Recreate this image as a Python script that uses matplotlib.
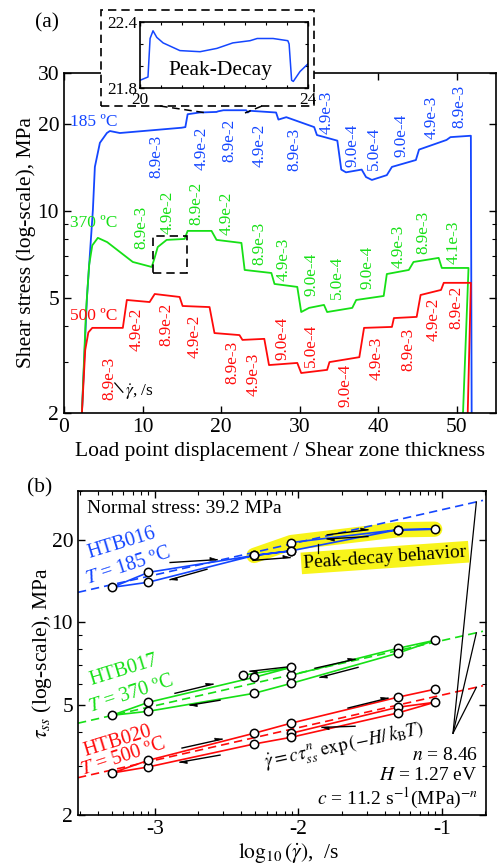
import numpy as np
import matplotlib
matplotlib.use("Agg")
import matplotlib.pyplot as plt
from matplotlib.patches import Rectangle, Polygon
from matplotlib.lines import Line2D
from matplotlib.ticker import FixedLocator, NullFormatter, FuncFormatter

plt.rcParams['font.family'] = ['Liberation Serif', 'DejaVu Serif']
plt.rcParams['mathtext.fontset'] = 'stix'
plt.rcParams['font.size'] = 15.5

BLUE = '#1446ff'
GREEN = '#16e016'
RED = '#ff0a0a'
YELLOW = '#f8f41a'

# ── (a) shear stress vs. load point displacement / shear zone thickness ──
disp_185 = [2.28, 2.92, 3.68, 3.93, 4.57, 5.46, 5.84, 7.11, 14.97, 15.45, 15.74, 17.26, 19.42,
            19.6, 20.3, 23.2, 23.4, 23.7, 27.0, 27.3, 28.3, 31.85, 32.2, 33.5, 34.8, 35.3,
            35.9, 37.9, 38.45, 39.2, 41.1, 41.75, 44.8, 45.2, 48.7, 49.2, 51.8, 51.9]
tau_185 = [2.0, 5.0, 10.1, 14.2, 17.2, 18.6, 18.9, 18.6, 19.4, 19.5, 21.6, 21.9, 22.0,
           22.1, 22.3, 22.3, 21.9, 22.2, 21.9, 20.7, 21.1, 19.5, 18.3, 17.9, 17.5, 13.9,
           13.6, 13.9, 13.1, 12.8, 13.3, 14.2, 15.0, 16.3, 17.6, 18.0, 18.2, 2.0]

disp_370 = [2.28, 2.8, 3.2, 3.6, 4.31, 5.5, 8.76, 11.17, 11.55, 11.93, 13.07, 15.36, 15.74,
            18.78, 19.42, 22.59, 23.0, 26.4, 26.8, 29.7, 30.2, 31.2, 33.1, 33.5, 36.7, 37.2,
            40.7, 41.1, 43.9, 44.5, 47.7, 48.1, 51.5, 50.8]
tau_370 = [2.0, 4.5, 6.5, 7.6, 8.07, 7.8, 6.66, 6.40, 6.9, 7.50, 7.94, 8.0, 8.53,
           8.53, 7.94, 7.75, 6.25, 6.10, 5.59, 5.46, 4.47, 4.62, 4.73, 4.47, 4.62, 4.92,
           5.08, 6.05, 6.25, 6.66, 6.88, 6.35, 6.35, 2.0]

disp_500 = [2.28, 2.7, 3.1, 3.6, 7.49, 8.0, 10.9, 11.55, 14.72, 15.1, 18.53, 19.16, 22.34,
            22.72, 25.5, 26.1, 29.7, 30.2, 33.5, 33.8, 37.6, 38.2, 41.75, 42.0, 44.9, 45.4,
            48.0, 48.35, 51.8, 51.4]
tau_500 = [2.0, 3.3, 3.8, 3.94, 3.94, 4.92, 4.84, 5.16, 5.04, 4.69, 4.65, 3.78, 3.72,
           3.58, 3.61, 2.93, 2.98, 2.75, 2.82, 3.00, 3.12, 3.94, 3.97, 4.26, 4.30, 5.12,
           5.33, 5.64, 5.64, 2.0]

# strain-rate step labels (/s)
rates_185 = ['8.9e-3', '4.9e-2', '8.9e-2', '4.9e-2', '8.9e-3', '4.9e-3', '9.0e-4',
             '5.0e-4', '9.0e-4', '4.9e-3', '8.9e-3']
rates_370 = ['8.9e-3', '4.9e-2', '8.9e-2', '4.9e-2', '8.9e-3', '4.9e-3', '9.0e-4',
             '5.0e-4', '9.0e-4', '4.9e-3', '8.9e-3', '4.1e-3']
rates_500 = ['8.9e-3', '4.9e-2', '8.9e-2', '4.9e-2', '8.9e-3', '4.9e-3', '9.0e-4',
             '5.0e-4', '9.0e-4', '4.9e-3', '8.9e-3', '4.9e-2', '8.9e-2']

# label anchor spots (displacement, stress)
lab_x_185 = [11.8, 17.5, 21.07, 24.87, 29.3, 33.4, 36.7, 39.5, 43.0, 46.8, 50.4]
lab_y_185 = [15.4, 16.5, 17.5, 16.9, 16.3, 22.0, 16.9, 16.5, 18.2, 21.1, 22.9]
lab_x_370 = [9.9, 13.2, 16.9, 20.7, 24.9, 28.0, 31.5, 34.8, 38.6, 42.6, 45.8, 49.6]
lab_y_370 = [8.8, 9.92, 10.66, 9.84, 7.69, 6.82, 6.01, 5.91, 6.40, 7.57, 8.40, 7.81]
lab_x_500 = [5.84, 9.26, 13.07, 16.6, 21.4, 24.2, 27.8, 31.5, 35.9, 39.85, 43.9, 47.1, 50.0]
lab_y_500 = [2.64, 3.91, 4.06, 3.69, 3.00, 2.73, 3.61, 3.44, 2.50, 3.08, 3.33, 4.23, 4.65]

# inset: peak-decay detail of the 185 C run
inset_disp = [20.0, 20.19, 20.24, 20.31, 20.4, 20.55, 20.95, 21.43, 21.83, 22.21, 22.62,
              22.79, 23.17, 23.52, 23.55, 23.61, 23.65, 23.81, 24.0]
inset_tau = [21.87, 21.9, 22.25, 22.32, 22.26, 22.21, 22.14, 22.13, 22.16, 22.21, 22.23,
             22.25, 22.25, 22.23, 22.20, 21.87, 21.86, 21.95, 22.02]

# ── (b) steady-state stress vs. strain rate ──
rate_016 = [8.9e-3, 4.9e-2, 8.9e-2, 4.9e-2, 8.9e-3, 4.9e-3, 9.0e-4, 5.0e-4, 9.0e-4, 4.9e-3, 8.9e-3]
tss_016 = [19.5, 21.7, 21.8, 21.7, 18.2, 17.5, 14.0, 13.4, 15.2, 17.5, 18.2]
rate_017 = [8.9e-3, 4.9e-2, 8.9e-2, 4.9e-2, 8.9e-3, 4.9e-3, 9.0e-4, 5.0e-4, 9.0e-4, 4.9e-3,
            8.9e-3, 4.1e-3]
tss_017 = [6.43, 8.05, 8.61, 7.73, 6.01, 5.53, 4.76, 4.60, 5.13, 6.32, 6.87, 6.43]
rate_020 = [8.9e-3, 4.9e-2, 8.9e-2, 4.9e-2, 8.9e-3, 4.9e-3, 9.0e-4, 5.0e-4, 9.0e-4, 4.9e-3,
            8.9e-3, 4.9e-2, 8.9e-2]
tss_020 = [3.96, 4.92, 5.13, 4.69, 3.83, 3.62, 2.99, 2.84, 3.16, 3.96, 4.31, 5.35, 5.72]

# points of HTB016 that show the peak-decay behaviour
peak_rate = [4.9e-3, 8.9e-3, 4.9e-2, 8.9e-2]
peak_tss = [17.5, 19.5, 21.7, 21.8]

# fit: gdot = c * tau^n * exp(-H / kB T)
N_EXP = 8.46
H_EV = 1.27
C_FIT = 11.2
K_B = 8.617e-5
T_C = [185, 370, 500]


def tau_fit(rate, t_c):
    return (rate * np.exp(H_EV / (K_B * (t_c + 273.15))) / C_FIT) ** (1.0 / N_EXP)


def half_arrow(ax, lx0, y0, lx1, y1, head=7.0, width=2.6):
    """Black line with a one-sided head at the end; x given as log10(rate)."""
    p0 = ax.transData.transform((10 ** lx0, y0))
    p1 = ax.transData.transform((10 ** lx1, y1))
    d = (p1 - p0) / np.hypot(*(p1 - p0))
    nrm = np.array([-d[1], d[0]])
    base = p1 - d * head
    pts = ax.transData.inverted().transform([p1, base, base + nrm * width])
    ax.plot([10 ** lx0, 10 ** lx1], [y0, y1], color='k', lw=1.0, zorder=3)
    ax.add_patch(Polygon(pts, closed=True, color='k', lw=0.5, zorder=3))


def style_axes(ax):
    for s in ax.spines.values():
        s.set_linewidth(1.2)
    ax.tick_params(which='both', direction='in', top=True, right=True)
    ax.tick_params(which='major', length=5, width=1.0)
    ax.tick_params(which='minor', length=3, width=0.8)


W, H = 497, 865
fig = plt.figure(figsize=(W / 100, H / 100), dpi=100)

# ---------------- panel (a) ----------------
ax_a = fig.add_axes([64 / W, 1 - 413 / H, 432 / W, 340 / H])
ax_a.plot(disp_185, tau_185, color=BLUE, lw=1.3)
ax_a.plot(disp_370, tau_370, color=GREEN, lw=1.3)
ax_a.plot(disp_500, tau_500, color=RED, lw=1.3)
ax_a.set_yscale('log')
ax_a.set_xlim(0, 55)
ax_a.set_ylim(2, 30)
ax_a.xaxis.set_major_locator(FixedLocator([0, 10, 20, 30, 40, 50]))
ax_a.yaxis.set_major_locator(FixedLocator([2, 5, 10, 20, 30]))
ax_a.yaxis.set_major_formatter(FuncFormatter(lambda v, p: f"{v:g}"))
ax_a.yaxis.set_minor_locator(FixedLocator([3, 4, 6, 7, 8, 9]))
ax_a.yaxis.set_minor_formatter(NullFormatter())
style_axes(ax_a)
ax_a.set_xlabel('Load point displacement / Shear zone thickness')
ax_a.set_ylabel('Shear stress (log-scale), MPa')
ax_a.xaxis.set_label_coords(0.5, -0.085)
ax_a.yaxis.set_label_coords(-0.064, 0.5)

for labels, xs, ys, col in ((rates_185, lab_x_185, lab_y_185, BLUE),
                            (rates_370, lab_x_370, lab_y_370, GREEN),
                            (rates_500, lab_x_500, lab_y_500, RED)):
    for s, x, y in zip(labels, xs, ys):
        ax_a.text(x, y, s, color=col, fontsize=12.3, rotation=90, ha='center', va='center')

ax_a.text(0.76, 20.3, '185 ºC', color=BLUE, fontsize=12.5, ha='left', va='center')
ax_a.text(0.76, 9.08, '370 ºC', color=GREEN, fontsize=12.5, ha='left', va='center')
ax_a.text(0.76, 4.33, '500 ºC', color=RED, fontsize=12.5, ha='left', va='center')
ax_a.plot([6.47, 7.49], [2.54, 2.36], color='k', lw=0.9)
ax_a.text(7.74, 2.36, r'$\dot{\gamma}$, /s', fontsize=12.5, ha='left', va='center')

ax_a.add_patch(Rectangle((11.3, 6.1), 4.3, 2.1, fill=False, ec='k', lw=1.2,
                         ls=(0, (5, 3)), zorder=4))

# dashed frame round the inset, and the zoom lines
fig.add_artist(Rectangle((101 / W, 1 - 106 / H), 213 / W, 96 / H, transform=fig.transFigure,
                         fc='white', ec='k', lw=1.2, ls=(0, (5, 3)), zorder=5))
fig.add_artist(Line2D([160 / W, 207 / W], [1 - 106 / H, 1 - 113 / H], color='k', lw=1.1,
                      ls=(0, (5, 3)), transform=fig.transFigure, zorder=5))
fig.add_artist(Line2D([262 / W, 245 / W], [1 - 106 / H, 1 - 113 / H], color='k', lw=1.1,
                      ls=(0, (5, 3)), transform=fig.transFigure, zorder=5))

ax_in = fig.add_axes([140 / W, 1 - 88 / H, 168 / W, 66 / H], zorder=6)
ax_in.plot(inset_disp, inset_tau, color=BLUE, lw=1.1)
ax_in.set_xlim(20, 24)
ax_in.set_ylim(21.8, 22.4)
ax_in.xaxis.set_major_locator(FixedLocator([20, 24]))
ax_in.xaxis.set_minor_locator(FixedLocator(np.arange(20.5, 24, 0.5)))
ax_in.yaxis.set_major_locator(FixedLocator([21.8, 22.4]))
ax_in.yaxis.set_minor_locator(FixedLocator([22.0, 22.2]))
ax_in.yaxis.set_major_formatter(FuncFormatter(lambda v, p: f"{v:.1f}"))
style_axes(ax_in)
ax_in.tick_params(which='both', labelsize=12.3)
ax_in.tick_params(axis='y', pad=2.2)
ax_in.tick_params(axis='x', pad=2.6)
ax_in.tick_params(which='major', length=3)
ax_in.tick_params(which='minor', length=2.5)
ax_in.text(0.476, 0.27, 'Peak-Decay', transform=ax_in.transAxes, ha='center', va='center',
           fontsize=15.5)

fig.text(47 / W, 1 - 23 / H, '(a)', ha='center', va='center', fontsize=15.5)

# ---------------- panel (b) ----------------
ax_b = fig.add_axes([78 / W, 1 - 815 / H, 408 / W, 324 / H])
ax_b.set_xscale('log')
ax_b.set_yscale('log')
ax_b.set_xlim(10 ** -3.537, 10 ** -0.693)
ax_b.set_ylim(2, 30)
ax_b.xaxis.set_major_locator(FixedLocator([1e-3, 1e-2, 1e-1]))
ax_b.xaxis.set_major_formatter(FuncFormatter(lambda v, p: f"{int(round(np.log10(v)))}"))
ax_b.xaxis.set_minor_locator(FixedLocator([m * 10.0 ** e for e in (-4, -3, -2, -1)
                                           for m in range(2, 10)]))
ax_b.xaxis.set_minor_formatter(NullFormatter())
ax_b.yaxis.set_major_locator(FixedLocator([2, 5, 10, 20]))
ax_b.yaxis.set_major_formatter(FuncFormatter(lambda v, p: f"{v:g}"))
ax_b.yaxis.set_minor_locator(FixedLocator([3, 4, 6, 7, 8, 9, 30]))
ax_b.yaxis.set_minor_formatter(NullFormatter())
style_axes(ax_b)
ax_b.set_xlabel(r'$\log_{10}(\dot{\gamma})$,  /s')
ax_b.set_ylabel(r'$\tau_{ss}$ (log-scale), MPa')
ax_b.xaxis.set_label_coords(0.517, -0.080)
ax_b.yaxis.set_label_coords(-0.06, 0.5)

# peak-decay highlight
ax_b.plot(peak_rate, peak_tss, color=YELLOW, lw=11, solid_capstyle='round',
          solid_joinstyle='round', zorder=1)

fit_x = np.array([10 ** -3.537, 10 ** -0.714])
for t_c, col in zip(T_C, (BLUE, GREEN, RED)):
    ax_b.plot(fit_x, tau_fit(fit_x, t_c), color=col, lw=1.2, ls=(0, (5, 3)), zorder=2)

for r, t, col in ((rate_016, tss_016, BLUE), (rate_017, tss_017, GREEN),
                  (rate_020, tss_020, RED)):
    ax_b.plot(r, t, color=col, lw=1.2, zorder=2)
    ax_b.plot(r, t, ls='none', marker='o', ms=6, mfc='white', mec='k', mew=1.1, zorder=4)

arrows = [(-2.895, 16.5, -2.568, 16.9), (-2.638, 15.6, -2.895, 14.3),
          (-2.317, 16.8, -2.059, 17.2), (-1.80, 20.8, -1.516, 21.7),
          (-1.516, 20.5, -1.80, 20.1),
          (-2.861, 5.53, -2.596, 5.97), (-2.547, 5.22, -2.756, 5.01),
          (-2.038, 6.93, -2.338, 6.65), (-1.885, 6.82, -1.606, 7.35),
          (-1.585, 6.87, -1.85, 6.32),
          (-2.812, 3.50, -2.533, 3.77), (-2.547, 3.30, -2.826, 3.11),
          (-1.655, 4.89, -1.376, 5.31), (-1.606, 4.20, -1.836, 4.16)]
for a in arrows:
    half_arrow(ax_b, *a)

ax_b.text(10 ** -3.474, 25.9, 'Normal stress: 39.2 MPa', ha='left', va='center', fontsize=14)
ax_b.text(10 ** -3.23, 19.3, 'HTB016', color=BLUE, rotation=17, ha='center', va='center',
          fontsize=14.5)
ax_b.text(10 ** -3.188, 16.0, r'$T$ = 185 ºC', color=BLUE, rotation=18, ha='center',
          va='center', fontsize=14.5)
ax_b.text(10 ** -3.216, 6.70, 'HTB017', color=GREEN, rotation=17, ha='center', va='center',
          fontsize=14.5)
ax_b.text(10 ** -3.167, 5.49, r'$T$ = 370 ºC', color=GREEN, rotation=18, ha='center',
          va='center', fontsize=14.5)
ax_b.text(10 ** -3.258, 3.71, 'HTB020', color=RED, rotation=17, ha='center', va='center',
          fontsize=14.5)
ax_b.text(10 ** -3.223, 3.24, r'$T$ = 500 ºC', color=RED, rotation=18, ha='center',
          va='center', fontsize=14.5)

ax_b.text(10 ** -1.397, 17.2, 'Peak-decay behavior', rotation=4, ha='center', va='center',
          fontsize=14, bbox=dict(boxstyle='square,pad=0.12', fc=YELLOW, ec='none'), zorder=5)
ax_b.plot([10 ** -1.864] * 2, [19.3, 17.8], color='k', lw=0.9, zorder=5)

ax_b.text(10 ** -1.68, 3.56, r'$\dot{\gamma} = c\tau_{ss}^{n}\ \exp\left(-H/\,k_{\rm B}T\right)$',
          rotation=12, ha='center', va='center', fontsize=13.5)
ax_b.text(10 ** -0.749, 3.30, r'$n$ = 8.46', ha='right', va='center', fontsize=14)
ax_b.text(10 ** -0.749, 2.79, r'$H$ = 1.27 eV', ha='right', va='center', fontsize=14)
ax_b.text(10 ** -0.749, 2.29, r'$c$ = 11.2 s$^{-1}$(MPa)$^{-n}$', ha='right', va='center',
          fontsize=14)

# leader lines from the formula to the three fit lines
tip = 10 ** -0.76
for t_c in T_C:
    ax_b.plot([10 ** -0.923, tip], [3.96, tau_fit(tip, t_c)], color='k', lw=0.9, zorder=3)

fig.text(40 / W, 1 - 488 / H, '(b)', ha='center', va='center', fontsize=15.5)

fig.savefig('out.png', dpi=100)
